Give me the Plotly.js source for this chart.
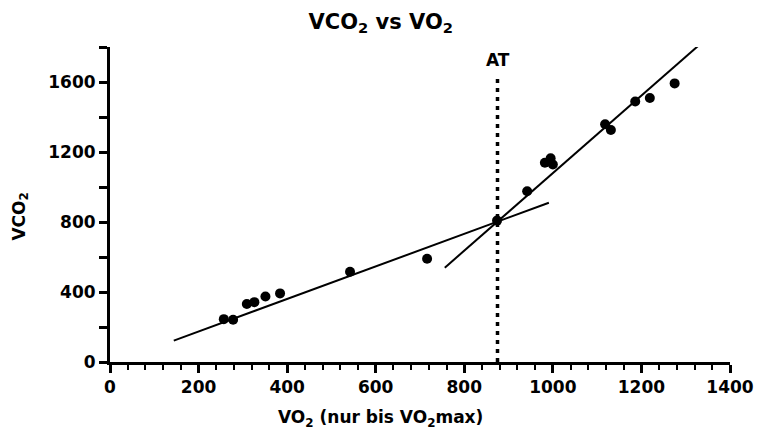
<!DOCTYPE html>
<html>
<head>
<meta charset="utf-8">
<script src="https://cdn.plot.ly/plotly-3.0.1.min.js"></script>
<style>html,body{margin:0;padding:0;background:#fff;}#chart{width:757px;height:430px;}</style>
</head>
<body>
<div id="chart"></div>
<script>
const vo2 = [257, 278, 309, 326, 351, 384, 542, 716, 874, 942, 982, 995, 1000, 1118, 1131, 1186, 1219, 1275];
const vco2 = [245, 241, 331, 342, 374, 392, 516, 590, 808, 976, 1139, 1164, 1129, 1359, 1326, 1489, 1509, 1592];
const lowFitX = [144, 991];
const lowFitY = [122, 910];
const highFitX = [756, 1332];
const highFitY = [539, 1815];
const atX = [875, 875];
const atY = [0, 1636];
const atLabelY = 1726;
const xTicks = [0, 200, 400, 600, 800, 1000, 1200, 1400];
const yTicks = [0, 400, 800, 1200, 1600];

const FONT = 'DejaVu Sans, Arial, sans-serif';

const traces = [
  {x: lowFitX, y: lowFitY, mode: 'lines', line: {color: '#000', width: 2}, hoverinfo: 'skip'},
  {x: highFitX, y: highFitY, mode: 'lines', line: {color: '#000', width: 2}, cliponaxis: false, hoverinfo: 'skip'},
  {x: atX, y: atY, mode: 'lines', line: {color: '#000', width: 3.5, dash: '4px,5px'}, cliponaxis: false, hoverinfo: 'skip'},
  {x: vo2, y: vco2, mode: 'markers', marker: {color: '#000', size: 10}, cliponaxis: false}
];

const layout = {
  width: 757, height: 430,
  margin: {l: 110, r: 27, t: 47, b: 68},
  paper_bgcolor: '#fff', plot_bgcolor: '#fff',
  showlegend: false,
  font: {family: FONT, color: '#000'},
  title: {
    text: 'VCO<sub>2</sub> vs VO<sub>2</sub>',
    font: {family: FONT, size: 21, weight: 'bold', color: '#000'},
    xref: 'container', yref: 'container', x: 0.503, xanchor: 'center', y: 0.95, yanchor: 'middle'
  },
  xaxis: {
    range: [0, 1400], tickvals: xTicks, ticktext: xTicks.map(String),
    showgrid: false, zeroline: false, showline: true, linecolor: '#000', linewidth: 3,
    ticks: 'outside', ticklen: 8, tickwidth: 3, tickcolor: '#000',
    tickfont: {family: FONT, size: 17, weight: 'bold', color: '#000'},
    minor: {dtick: 40, tick0: 0, ticks: 'outside', ticklen: 5, tickwidth: 2, tickcolor: '#000', showgrid: false},
    fixedrange: true
  },
  yaxis: {
    range: [0, 1800], tickvals: yTicks, ticktext: yTicks.map(String),
    showgrid: false, zeroline: false, showline: true, linecolor: '#000', linewidth: 3,
    ticks: 'outside', ticklen: 8, tickwidth: 3, tickcolor: '#000',
    tickfont: {family: FONT, size: 17, weight: 'bold', color: '#000'},
    minor: {dtick: 200, tick0: 0, ticks: 'outside', ticklen: 8, tickwidth: 3, tickcolor: '#000', showgrid: false},
    fixedrange: true
  },
  annotations: [
    {text: 'VO<sub>2</sub> (nur bis VO<sub>2</sub>max)', xref: 'paper', yref: 'paper', x: 0.4355, y: -0.178,
     xanchor: 'center', yanchor: 'middle', showarrow: false,
     font: {family: FONT, size: 17, weight: 'bold', color: '#000'}},
    {text: 'VCO<sub>2</sub>', xref: 'paper', yref: 'paper', x: -0.145, y: 0.462, textangle: -90,
     xanchor: 'center', yanchor: 'middle', showarrow: false,
     font: {family: FONT, size: 17, weight: 'bold', color: '#000'}},
    {text: 'AT', xref: 'x', yref: 'y', x: atX[0], y: atLabelY, xanchor: 'center', yanchor: 'middle', showarrow: false,
     font: {family: FONT, size: 17, weight: 'bold', color: '#000'}}
  ]
};

Plotly.newPlot('chart', traces, layout, {staticPlot: true, displayModeBar: false});
</script>
</body>
</html>
